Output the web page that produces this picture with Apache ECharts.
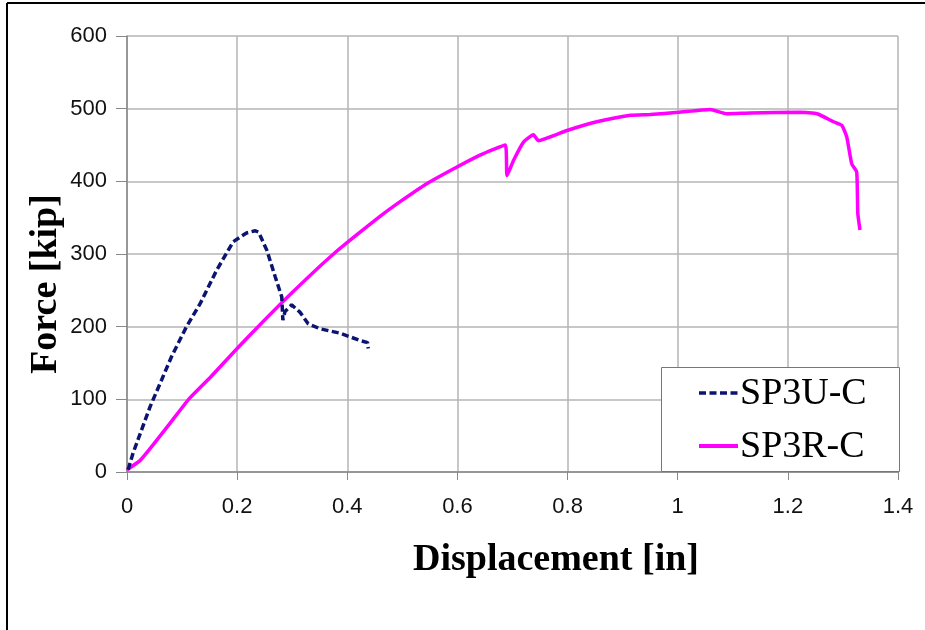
<!DOCTYPE html>
<html><head><meta charset="utf-8">
<script src="https://cdn.jsdelivr.net/npm/echarts@6/dist/echarts.min.js"></script>
<style>html,body{margin:0;padding:0;background:#fff}#c{width:925px;height:630px}</style>
</head><body><div id="c"></div>
<script>
const xTicks = [0, 0.2, 0.4, 0.6, 0.8, 1, 1.2, 1.4];
const yTicks = [0, 100, 200, 300, 400, 500, 600];
const xTitle = 'Displacement [in]';
const yTitle = 'Force [kip]';
const seriesNames = ['SP3U-C', 'SP3R-C'];
const sp3uX = [0.002,0.011,0.042,0.063,0.081,0.108,0.133,0.163,0.193,0.217,0.233,0.239,0.254,0.269,0.281,0.283,0.287,0.299,0.314,0.329,0.351,0.387,0.423,0.437,0.438];
const sp3uY = [3,26,90,127,159,200,232,278,317,329,332,330,305,269,241,209,221,230,220,204,197,191,181,178,170];
const sp3rX = [0,0.024,0.048,0.078,0.112,0.151,0.2,0.238,0.3,0.375,0.46,0.496,0.545,0.6,0.641,0.687,0.69,0.702,0.72,0.738,0.747,0.799,0.853,0.914,0.95,1.001,1.059,1.089,1.132,1.223,1.253,1.283,1.298,1.307,1.316,1.325,1.327,1.331];
const sp3rY = [3,16,38,67,100,130,170,200,247,300,352,372,397,420,436,450,408,429,454,464,456,470,482,491,492,495,499,493,494,495,493,482,477,461,424,413,356,333];

const chart = echarts.init(document.getElementById('c'));
const serif = '"Liberation Serif", "Times New Roman", serif';
const sans = '"Liberation Sans", Arial, sans-serif';
const uColor = '#0b1470', rColor = '#ff00ff';
chart.setOption({
  animation: false,
  backgroundColor: '#fff',
  grid: {left: 127, right: 27, top: 36, bottom: 158, show: false},
  xAxis: {
    type: 'value', min: 0, max: 1.4, interval: 0.2,
    axisLine: {show: true, lineStyle: {color: '#888', width: 1.5}},
    axisTick: {show: true, length: 8, lineStyle: {color: '#888'}},
    axisLabel: {fontFamily: sans, fontSize: 22, color: '#111', margin: 24, formatter: v => String(Math.round(v*10)/10)},
    splitLine: {show: true, lineStyle: {color: '#b4b4b4', width: 1.5}}
  },
  yAxis: {
    type: 'value', min: 0, max: 600, interval: 100,
    axisLine: {show: true, lineStyle: {color: '#888', width: 1.5}},
    axisTick: {show: true, length: 11, lineStyle: {color: '#888'}},
    axisLabel: {fontFamily: sans, fontSize: 22, color: '#111', margin: 20},
    splitLine: {show: true, lineStyle: {color: '#b4b4b4', width: 1.5}}
  },
  series: [
    {name: seriesNames[0], type: 'line', showSymbol: false, symbol: 'none',
     data: sp3uX.map((x,i)=>[x, sp3uY[i]]),
     lineStyle: {color: uColor, width: 3.5, type: [7, 3.5]}, itemStyle: {color: uColor}, z: 3},
    {name: seriesNames[1], type: 'line', showSymbol: false, symbol: 'none', smooth: 0.15,
     data: sp3rX.map((x,i)=>[x, sp3rY[i]]),
     lineStyle: {color: rColor, width: 3.5}, itemStyle: {color: rColor}, z: 2}
  ],
  graphic: [
    {type: 'line', shape: {x1: 7, y1: 3, x2: 925, y2: 3}, style: {stroke: '#000', lineWidth: 2}},
    {type: 'line', shape: {x1: 7, y1: 3, x2: 7, y2: 630}, style: {stroke: '#000', lineWidth: 2}},
    {type: 'text', x: 556, y: 579, style: {text: xTitle, font: 'bold 38px ' + serif, fill: '#000', textAlign: 'center', textVerticalAlign: 'bottom'}},
    {type: 'text', x: 65, y: 284, rotation: Math.PI / 2, style: {text: yTitle, font: 'bold 38px ' + serif, fill: '#000', textAlign: 'center', textVerticalAlign: 'bottom'}},
    {type: 'rect', shape: {x: 661.5, y: 367.5, width: 238, height: 104}, style: {fill: '#fff', stroke: '#777', lineWidth: 1}, z: 10},
    {type: 'line', shape: {x1: 699, y1: 393, x2: 738, y2: 393}, style: {stroke: uColor, lineWidth: 3.5, lineDash: [7, 3.5]}, z: 11},
    {type: 'text', x: 740, y: 394, style: {text: seriesNames[0], font: '38px ' + serif, fill: '#000', textVerticalAlign: 'middle'}, z: 11},
    {type: 'line', shape: {x1: 699, y1: 446, x2: 738, y2: 446}, style: {stroke: rColor, lineWidth: 4}, z: 11},
    {type: 'text', x: 740, y: 447, style: {text: seriesNames[1], font: '38px ' + serif, fill: '#000', textVerticalAlign: 'middle'}, z: 11}
  ]
});
</script></body></html>
